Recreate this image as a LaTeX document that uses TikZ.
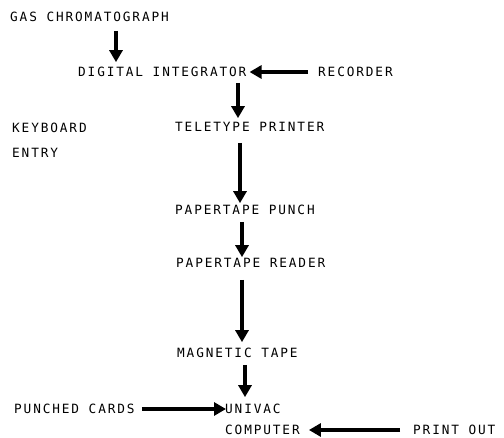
\documentclass[tikz,border=0pt]{standalone}
\usepackage{fontspec}
\newfontfamily\typer[LetterSpace=14.7]{DejaVu Sans Mono}
\usetikzlibrary{arrows.meta}

\begin{document}
\begin{tikzpicture}[x=1pt, y=-1pt,
        lbl/.style={anchor=west, inner sep=0pt, text height=9.3pt, text depth=0pt,
                    font=\typer\fontsize{12.75pt}{15pt}\selectfont},
        flow/.style={line width=3.3pt, -{Triangle[length=12pt, width=13pt]}}]
        \useasboundingbox (0,0) rectangle (504,438);
        \node[lbl] (gas) at (10,17) {GAS CHROMATOGRAPH};
        \node[lbl] (dig) at (78,72) {DIGITAL INTEGRATOR};
        \node[lbl] (rec) at (318,72) {RECORDER};
        \node[lbl, align=left] (key) at (12,153) {KEYBOARD\\[10.3pt]ENTRY};
        \node[lbl] (tel) at (175,127) {TELETYPE PRINTER};
        \node[lbl] (pun) at (175,210) {PAPERTAPE PUNCH};
        \node[lbl] (rea) at (176,263) {PAPERTAPE READER};
        \node[lbl] (mag) at (177,353) {MAGNETIC TAPE};
        \node[lbl] (uni) at (225,409) {UNIVAC};
        \node[lbl] (com) at (225,430) {COMPUTER};
        \node[lbl] (pc) at (14,409) {PUNCHED CARDS};
        \node[lbl] (po) at (413,430) {PRINT OUT};
        \draw[flow] ([xshift=106pt, yshift=-9pt]gas.south west) -- ([xshift=38pt, yshift=5pt]dig.north west);
        \draw[flow] ([xshift=-10pt]rec.west) -- ([xshift=3pt]dig.east);
        \draw[flow] ([xshift=160pt, yshift=-6pt]dig.south west) -- ([xshift=63pt, yshift=4pt]tel.north west);
        \draw[flow] ([xshift=65pt, yshift=-11pt]tel.south west) -- ([xshift=65pt, yshift=2pt]pun.north west);
        \draw[flow] ([xshift=67pt, yshift=-7pt]pun.south west) -- ([xshift=66pt, yshift=1pt]rea.north west);
        \draw[flow] ([xshift=66pt, yshift=-12pt]rea.south west) -- ([xshift=65pt, yshift=6pt]mag.north west);
        \draw[flow] ([xshift=68pt, yshift=-7pt]mag.south west) -- ([xshift=20pt, yshift=7pt]uni.north west);
        \draw[flow] ([xshift=7pt]pc.east) -- ([xshift=1pt]uni.west);
        \draw[flow] ([xshift=-13pt]po.west) -- ([xshift=9pt]com.east);
        \end{tikzpicture}
\end{document}
